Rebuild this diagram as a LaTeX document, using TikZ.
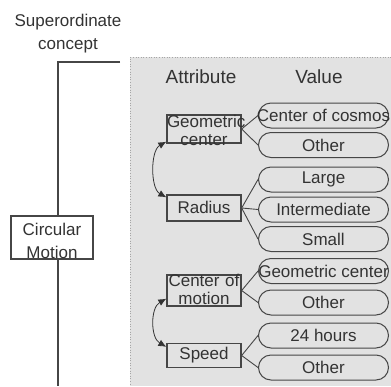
\documentclass[tikz,border=0pt]{standalone}
\usepackage{fontspec}
\setmainfont{Liberation Sans}
\usetikzlibrary{arrows.meta,calc}
\definecolor{panel}{RGB}{226,226,226}
\definecolor{ink}{RGB}{51,51,51}
\definecolor{edge}{RGB}{70,70,70}
\newcommand{\vtxt}[1]{\makebox[124pt][c]{#1}}
\tikzset{
  attrbox/.style={draw=edge,line width=1.3pt,rectangle,minimum width=74pt,inner sep=0pt},
  attrtxt/.style={text=ink,inner sep=0pt,text width=74pt,align=center,font=\fontsize{17}{18}\selectfont},
  valbox/.style={draw=edge,line width=1pt,rectangle,rounded corners=12.5pt,minimum width=130pt,minimum height=25pt,
     inner xsep=3pt,inner ysep=0pt,text=ink,font=\fontsize{17}{18}\selectfont},
  link/.style={draw=edge,line width=0.9pt},
  swap/.style={draw=ink,line width=0.8pt,{Latex[length=8pt,width=7pt]}-{Latex[length=8pt,width=7pt]}},
  head/.style={text=ink,font=\fontsize{19}{21}\selectfont,inner sep=0pt},
}
\begin{document}
\begin{tikzpicture}[x=1pt,y=-1pt]
\useasboundingbox (0,0) rectangle (391,386);
% panel
\fill[panel] (130,57) rectangle (391,386);
\draw[gray!70,dotted,line width=0.6pt] (391,57) -- (130,57) -- (130,386);
% superordinate
\node[text=ink,align=center,inner sep=0pt,font=\fontsize{17}{23}\selectfont] (sup) at (68,33.5) {Superordinate\\concept};
\coordinate (ltop) at (58,62);
\coordinate (lend) at (120,62);
\coordinate (lbot) at (58,386);
\draw[edge,line width=1.3pt] (lend) -- (ltop) -- (lbot);
\node[draw=edge,line width=1.3pt,fill=white,minimum width=82pt,minimum height=43pt,inner sep=0pt] (cm) at (52,237.5) {};
\node[text=ink,align=center,inner sep=0pt,font=\fontsize{17}{23}\selectfont] (cmt) at (52,240.5) {Circular\\Motion};
% headers
\node[head] (hattr) at (201,77) {Attribute};
\node[head] (hval) at (319,77) {Value};
% attribute boxes
\node[attrbox,minimum height=28pt] (geo) at (204,129) {};
\node[attrtxt] (geot) at (204,130.5) {Geometric\\center};
\node[attrbox,minimum height=26pt] (rad) at (204,208) {};
\node[attrtxt] (radt) at (204,207.5) {Radius};
\node[attrbox,minimum height=31pt] (cmo) at (204,290.5) {};
\node[attrtxt] (cmot) at (204,289.5) {Center of\\motion};
\node[attrbox,minimum height=24pt] (spd) at (204,355.5) {};
\node[attrtxt] (spdt) at (204,355) {Speed};
% values
\node[valbox] (v1) at (323.5,115.5) {\vtxt{Center of cosmos}};
\node[valbox] (v2) at (323.5,145) {\vtxt{Other}};
\node[valbox] (v3) at (323.5,179.5) {\vtxt{Large}};
\node[valbox] (v4) at (323.5,209.5) {\vtxt{Intermediate}};
\node[valbox] (v5) at (323.5,239) {\vtxt{Small}};
\node[valbox] (v6) at (323.5,271) {\vtxt{Geometric center}};
\node[valbox] (v7) at (323.5,302.5) {\vtxt{Other}};
\node[valbox] (v8) at (323.5,335.5) {\vtxt{24 hours}};
\node[valbox] (v9) at (323.5,367.5) {\vtxt{Other}};
% links
\draw[link] (geo.east) -- (v1.west);
\draw[link] (geo.east) -- (v2.west);
\draw[link] (rad.east) -- (v3.west);
\draw[link] (rad.east) -- (v4.west);
\draw[link] (rad.east) -- (v5.west);
\draw[link] (cmo.east) -- (v6.west);
\draw[link] (cmo.east) -- (v7.west);
\draw[link] (spd.east) -- (v8.west);
\draw[link] (spd.east) -- (v9.west);
% double arrows
\draw[swap] ($(geo.south west)+(0,-2)$) .. controls +(-16,9) and +(-16,-9) .. ($(rad.north west)+(0,3)$);
\draw[swap] ($(cmo.south west)+(0,-8)$) .. controls +(-16,9) and +(-16,-9) .. ($(spd.north west)+(0,4)$);
\end{tikzpicture}
\end{document}
